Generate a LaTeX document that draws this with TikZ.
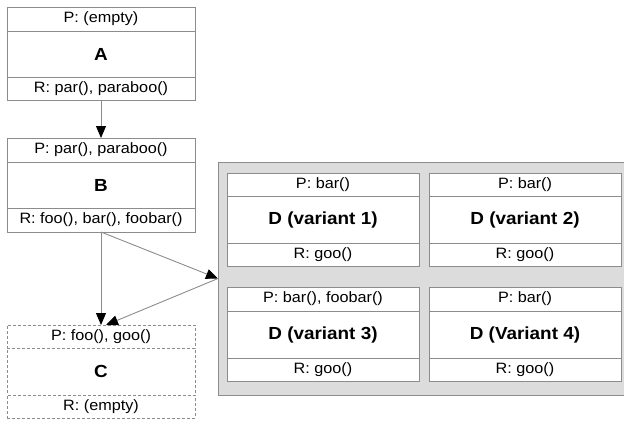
\documentclass[tikz,border=0pt]{standalone}
\usepackage{fontspec}
\setmainfont{Liberation Sans}[FakeStretch=1.08]
\usetikzlibrary{arrows.meta}
\definecolor{bordergray}{HTML}{8C8C8C}
\definecolor{panelgray}{HTML}{DCDCDC}
\tikzset{
  part/.style={draw=bordergray, line width=0.9pt, fill=white, inner sep=0pt, outer sep=0pt,
    font=\fontsize{15}{18}\selectfont, text=black},
  title/.style={part, font=\fontsize{17.5}{21}\selectfont\bfseries},
  dashedpart/.style={dash pattern=on 3pt off 2pt},
  panel/.style={draw=bordergray, line width=0.9pt, fill=panelgray, inner sep=0pt, outer sep=0pt},
  conn/.style={draw=bordergray, line width=0.9pt, -{Triangle[length=12pt,width=10pt,color=black,fill=black]}},
}
\begin{document}
\begin{tikzpicture}[x=1pt,y=-1pt]
\useasboundingbox (0,0) rectangle (624,421);
% A
\node[part, minimum width=188, minimum height=24] (Ap) at (101,19) {P: (empty)};
\node[title, minimum width=188, minimum height=46] (Am) at (101,54) {A};
\node[part, minimum width=188, minimum height=23] (Ar) at (101,88.5) {R: par(), paraboo()};
% B
\node[part, minimum width=188, minimum height=24] (Bp) at (101,150) {P: par(), paraboo()};
\node[title, minimum width=188, minimum height=46] (Bm) at (101,185) {B};
\node[part, minimum width=188, minimum height=24] (Br) at (101,220) {R: foo(), bar(), foobar()};
% C
\node[part, dashedpart, minimum width=188, minimum height=23] (Cp) at (101,336.5) {P: foo(), goo()};
\node[title, dashedpart, minimum width=188, minimum height=47] (Cm) at (101,371.5) {C};
\node[part, dashedpart, minimum width=188, minimum height=23] (Cr) at (101,406.5) {R: (empty)};
% panel
\node[panel, minimum width=407, minimum height=233] (G) at (421.5,278.5) {};
% D1
\node[part, minimum width=192, minimum height=23] (D1p) at (323,184.5) {P: bar()};
\node[title, minimum width=192, minimum height=47] (D1m) at (323,219.5) {D (variant 1)};
\node[part, minimum width=192, minimum height=23] (D1r) at (323,254.5) {R: goo()};
% D2
\node[part, minimum width=192, minimum height=23] (D2p) at (525,184.5) {P: bar()};
\node[title, minimum width=192, minimum height=47] (D2m) at (525,219.5) {D (variant 2)};
\node[part, minimum width=192, minimum height=23] (D2r) at (525,254.5) {R: goo()};
% D3
\node[part, minimum width=192, minimum height=24] (D3p) at (323,299) {P: bar(), foobar()};
\node[title, minimum width=192, minimum height=47] (D3m) at (323,334.5) {D (variant 3)};
\node[part, minimum width=192, minimum height=23] (D3r) at (323,369.5) {R: goo()};
% D4
\node[part, minimum width=192, minimum height=24] (D4p) at (525,299) {P: bar()};
\node[title, minimum width=192, minimum height=47] (D4m) at (525,334.5) {D (Variant 4)};
\node[part, minimum width=192, minimum height=23] (D4r) at (525,369.5) {R: goo()};
% connectors
\coordinate (Cin) at ([xshift=5pt]Cp.north);
\draw[conn] (Ar.south) -- (Bp.north);
\draw[conn] (Br.south) -- (Cp.north);
\draw[conn] (Br.south) -- (G.west);
\draw[conn] (G.west) -- (Cin);
\end{tikzpicture}
\end{document}
